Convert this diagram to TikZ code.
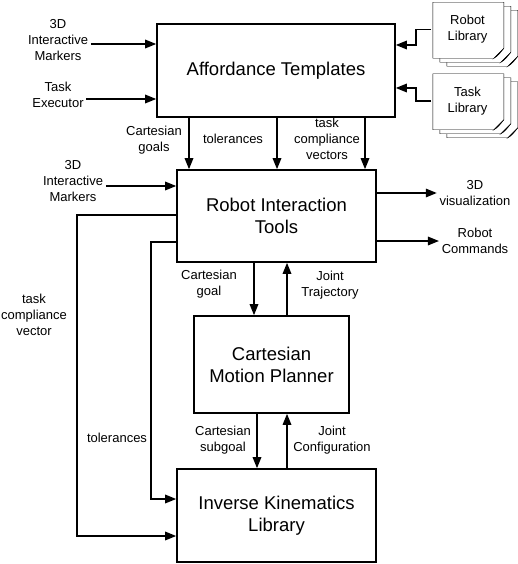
\documentclass[tikz,border=0pt]{standalone}
\usepackage{fontspec}
\setmainfont{Liberation Sans}
\usetikzlibrary{arrows.meta,backgrounds}

\begin{document}
\begin{tikzpicture}[x=1pt,y=-1pt,line width=1.6pt,
	box/.style={draw,align=center,font=\fontsize{18.5}{22}\selectfont},
	lbl/.style={align=center,inner sep=2pt,font=\fontsize{13}{16}\selectfont},
	lib/.style={lbl,minimum width=71pt,minimum height=56pt},
	arr/.style={-{Triangle[length=11pt,width=8.5pt]}}]
	\useasboundingbox (0,0) rectangle (518,564);
	\node[box,minimum width=238pt,minimum height=93pt] (at) at (276,70.5) {Affordance Templates};
	\node[box,minimum width=199pt,minimum height=92pt] (rit) at (276.5,216) {Robot Interaction\\Tools};
	\node[box,minimum width=155pt,minimum height=97pt] (cmp) at (271.5,364.5) {Cartesian\\Motion Planner};
	\node[box,minimum width=199pt,minimum height=93pt] (ikl) at (276.5,515.5) {Inverse Kinematics\\Library};
	\node[lib] (rlib) at (467.5,29.5) {Robot\\Library};
	\node[lib] (tlib) at (467.5,101) {Task\\Library};
	\begin{scope}[on background layer,line width=1.3pt]
		\foreach \s in {rlib,tlib}
			\foreach \d in {14,7,0}
			{
				\begin{scope}[shift={(\s.south east)},shift={(\d,\d*4/7)}]
					\filldraw[fill=white] (-71,-56) -- (0,-56) -- (0,-10) -- (-10,0) -- (-71,0) -- cycle;
					\filldraw[fill=black!75] (0,-10) .. controls (-4,-5) and (-6,-2) .. (-10,0) -- cycle;
				\end{scope}
			}
	\end{scope}
	\node[lbl] (im1) at (58,40) {3D\\Interactive\\Markers};
	\node[lbl] (te) at (58,95) {Task\\Executor};
	\node[lbl] (cg) at (154,140.5) {Cartesian\\goals};
	\node[lbl] (tol1) at (233,139) {tolerances};
	\node[lbl] (tcv1) at (327,139) {task\\compliance\\vectors};
	\node[lbl] (im2) at (73,181) {3D\\Interactive\\Markers};
	\node[lbl] (vis) at (475,193) {3D\\visualization};
	\node[lbl] (rc) at (475,240.5) {Robot\\Commands};
	\node[lbl] (cgl) at (209,284) {Cartesian\\goal};
	\node[lbl] (jt) at (330,285) {Joint\\Trajectory};
	\node[lbl] (csg) at (223,440) {Cartesian\\subgoal};
	\node[lbl] (jc) at (332,440) {Joint\\Configuration};
	\node[lbl] (tcv2) at (34,315) {task\\compliance\\vector};
	\node[lbl] (tol2) at (117,438) {tolerances};
	\draw[arr] ([yshift=-4pt]im1.east) -- ([yshift=-4pt]im1.east -| at.west);
	\draw[arr] ([yshift=-4pt]te.east) -- ([yshift=-4pt]te.east -| at.west);
	\draw[arr] (rlib.west) -- ++(-15,0) |- ([yshift=25.5pt]at.east);
	\draw[arr] (tlib.west) -- ++(-15,0) |- ([yshift=-17.5pt]at.east);
	\foreach \dx in {-87,1,89}
		\draw[arr] ([xshift=\dx pt]at.south) -- ([xshift=\dx pt]at.south |- rit.north);
	\draw[arr] ([yshift=-5pt]im2.east) -- ([yshift=-5pt]im2.east -| rit.west);
	\draw[arr] ([yshift=23pt]rit.east) -- ([yshift=23pt]rit.east -| vis.west);
	\draw[arr] ([yshift=-25pt]rit.east) -- ([yshift=-25pt]rit.east -| rc.west);
	\draw[arr] ([xshift=-22.5pt]rit.south) -- ([xshift=-22.5pt]rit.south |- cmp.north);
	\draw[arr] ([xshift=10.5pt]rit.south |- cmp.north) -- ([xshift=10.5pt]rit.south);
	\draw[arr] ([xshift=-14.5pt]cmp.south) -- ([xshift=-14.5pt]cmp.south |- ikl.north);
	\draw[arr] ([xshift=15.5pt]cmp.south |- ikl.north) -- ([xshift=15.5pt]cmp.south);
	\draw[arr] ([yshift=1pt]rit.west) -- ++(-99,0) |- ([yshift=-20.5pt]ikl.west);
	\draw[arr] ([yshift=-26pt]rit.west) -- ++(-25,0) |- ([yshift=16.5pt]ikl.west);
\end{tikzpicture}
\end{document}
